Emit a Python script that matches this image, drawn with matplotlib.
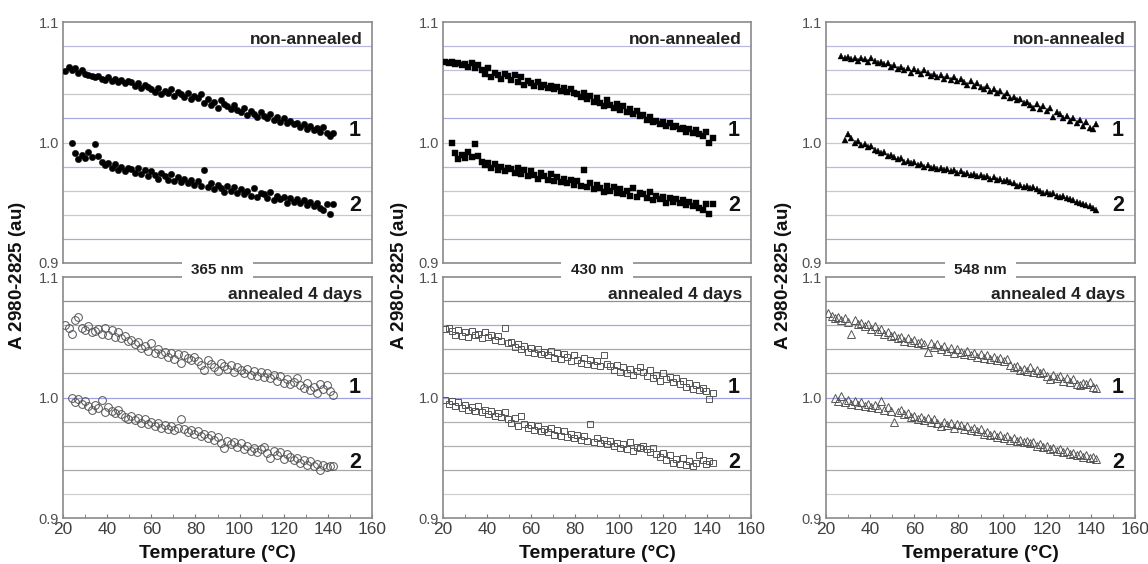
import numpy as np
import matplotlib
matplotlib.use("Agg")
import matplotlib.pyplot as plt

plt.rcParams['font.family'] = ['Liberation Sans Narrow', 'Liberation Sans', 'DejaVu Sans']
plt.rcParams['mathtext.fontset'] = 'custom'
plt.rcParams['mathtext.it'] = 'Liberation Sans:style=italic:weight=bold'
plt.rcParams['mathtext.rm'] = 'Liberation Sans:weight=bold'

# ---------------- data ----------------
temperature = [21.0, 22.5, 24.0, 25.5, 27.0, 28.5, 30.0, 31.5, 33.0, 34.5,
               36.0, 37.5, 39.0, 40.5, 42.0, 43.5, 45.0, 46.5, 48.0, 49.5,
               51.0, 52.5, 54.0, 55.5, 57.0, 58.5, 60.0, 61.5, 63.0, 64.5,
               66.0, 67.5, 69.0, 70.5, 72.0, 73.5, 75.0, 76.5, 78.0, 79.5,
               81.0, 82.5, 84.0, 85.5, 87.0, 88.5, 90.0, 91.5, 93.0, 94.5,
               96.0, 97.5, 99.0, 100.5, 102.0, 103.5, 105.0, 106.5, 108.0, 109.5,
               111.0, 112.5, 114.0, 115.5, 117.0, 118.5, 120.0, 121.5, 123.0, 124.5,
               126.0, 127.5, 129.0, 130.5, 132.0, 133.5, 135.0, 136.5, 138.0, 139.5,
               141.0, 142.5]

# absorbance values in thousandths (0 = no measurement)
nm365_nonannealed_1 = [1059, 1063, 1060, 1062, 1058, 1060, 1057, 1056, 1055, 1054,
                       1055, 1053, 1052, 1054, 1051, 1053, 1050, 1052, 1049, 1051,
                       1050, 1047, 1049, 1045, 1048, 1046, 1044, 1042, 1045, 1040,
                       1043, 1041, 1044, 1039, 1042, 1040, 1038, 1041, 1036, 1039,
                       1037, 1040, 1033, 1036, 1031, 1034, 1029, 1035, 1032, 1030,
                       1028, 1031, 1027, 1025, 1029, 1023, 1026, 1024, 1021, 1025,
                       1022, 1020, 1024, 1019, 1021, 1017, 1020, 1016, 1018, 1015,
                       1016, 1013, 1015, 1011, 1014, 1010, 1012, 1009, 1013, 1008,
                       1005, 1008]
nm365_nonannealed_2 = [0, 0, 1000, 991, 986, 990, 987, 992, 988, 999,
                       989, 984, 981, 983, 979, 982, 977, 980, 976, 979,
                       978, 975, 979, 974, 977, 972, 976, 973, 970, 975,
                       972, 969, 974, 968, 971, 967, 970, 966, 969, 965,
                       968, 964, 977, 963, 966, 961, 965, 962, 959, 964,
                       960, 963, 958, 961, 957, 960, 956, 962, 955, 958,
                       957, 954, 959, 952, 956, 953, 955, 950, 954, 951,
                       953, 950, 952, 948, 951, 947, 950, 946, 944, 949,
                       941, 949]
nm365_annealed_1 = [1060, 1058, 1053, 1064, 1067, 1058, 1056, 1059, 1054, 1055,
                    1057, 1053, 1058, 1052, 1056, 1050, 1054, 1049, 1051, 1047,
                    1048, 1044, 1046, 1041, 1043, 1039, 1045, 1037, 1040, 1036,
                    1038, 1034, 1037, 1032, 1036, 1029, 1035, 1033, 1031, 1034,
                    1030, 1027, 1023, 1031, 1028, 1025, 1022, 1029, 1026, 1024,
                    1027, 1021, 1025, 1023, 1020, 1024, 1019, 1022, 1018, 1021,
                    1017, 1020, 1016, 1019, 1014, 1018, 1012, 1015, 1011, 1013,
                    1016, 1010, 1008, 1012, 1006, 1009, 1004, 1011, 1007, 1010,
                    1005, 1002]
nm365_annealed_2 = [0, 0, 1000, 996, 999, 995, 997, 993, 990, 994,
                    991, 998, 988, 992, 989, 987, 990, 986, 984, 982,
                    985, 981, 983, 979, 982, 978, 980, 976, 979, 975,
                    977, 974, 976, 973, 975, 982, 974, 971, 973, 970,
                    972, 968, 970, 966, 969, 965, 967, 962, 958, 964,
                    961, 963, 959, 962, 957, 960, 956, 958, 955, 957,
                    959, 954, 950, 956, 952, 955, 949, 953, 951, 948,
                    950, 946, 948, 944, 947, 943, 945, 940, 944, 942,
                    943, 943]

nm430_nonannealed_1 = [1067, 1066, 1067, 1065, 1066, 1064, 1065, 1063, 1066, 1062,
                       1064, 1060, 1057, 1062, 1054, 1058, 1056, 1053, 1057, 1055,
                       1052, 1056, 1050, 1054, 1048, 1051, 1049, 1047, 1050, 1046,
                       1048, 1045, 1047, 1044, 1046, 1043, 1045, 1042, 1044, 1041,
                       1040, 1038, 1041, 1036, 1039, 1034, 1037, 1033, 1030, 1035,
                       1031, 1029, 1032, 1027, 1030, 1025, 1028, 1024, 1026, 1022,
                       1023, 1019, 1021, 1017, 1018, 1015, 1017, 1014, 1016, 1013,
                       1014, 1011, 1012, 1009, 1011, 1008, 1010, 1007, 1005, 1009,
                       1000, 1004]
nm430_nonannealed_2 = [0, 0, 1000, 991, 986, 990, 987, 992, 988, 999,
                       989, 984, 981, 983, 979, 982, 977, 980, 976, 979,
                       978, 975, 979, 974, 977, 972, 976, 973, 970, 975,
                       972, 969, 974, 968, 971, 967, 970, 966, 969, 965,
                       968, 964, 977, 963, 966, 961, 965, 962, 959, 964,
                       960, 963, 958, 961, 957, 960, 956, 962, 955, 958,
                       957, 954, 959, 952, 956, 953, 955, 950, 954, 951,
                       953, 950, 952, 948, 951, 947, 950, 946, 944, 949,
                       941, 949]
nm430_annealed_1 = [1057, 1058, 1055, 1052, 1056, 1051, 1054, 1050, 1055, 1052,
                    1053, 1049, 1054, 1050, 1052, 1048, 1051, 1047, 1058, 1045,
                    1046, 1042, 1044, 1040, 1043, 1038, 1041, 1037, 1040, 1036,
                    1038, 1035, 1039, 1033, 1037, 1032, 1036, 1034, 1030, 1035,
                    1031, 1029, 1033, 1028, 1031, 1027, 1030, 1026, 1035, 1028,
                    1026, 1023, 1027, 1021, 1025, 1020, 1024, 1019, 1022, 1025,
                    1021, 1018, 1023, 1016, 1019, 1014, 1020, 1015, 1017, 1013,
                    1016, 1011, 1014, 1009, 1012, 1007, 1010, 1006, 1008, 1005,
                    999, 1004]
nm430_annealed_2 = [998, 995, 997, 993, 996, 991, 994, 990, 992, 989,
                    993, 988, 990, 986, 989, 985, 987, 984, 988, 982,
                    979, 983, 976, 985, 978, 975, 977, 973, 976, 972,
                    974, 971, 975, 969, 973, 968, 972, 967, 970, 966,
                    969, 965, 968, 964, 978, 963, 966, 962, 965, 961,
                    964, 960, 962, 958, 961, 957, 963, 956, 959, 958,
                    960, 957, 955, 958, 953, 951, 954, 948, 952, 946,
                    949, 945, 950, 944, 947, 943, 946, 952, 948, 945,
                    947, 946]

nm548_nonannealed_1 = [0, 0, 0, 0, 1072, 1070, 1071, 1069, 1070, 1068,
                       1070, 1069, 1067, 1070, 1068, 1066, 1067, 1065, 1066, 1063,
                       1064, 1061, 1063, 1060, 1062, 1058, 1061, 1059, 1057, 1060,
                       1058, 1055, 1057, 1054, 1056, 1053, 1055, 1052, 1054, 1051,
                       1053, 1050, 1048, 1051, 1047, 1049, 1046, 1044, 1047, 1043,
                       1044, 1041, 1043, 1039, 1041, 1037, 1038, 1035, 1036, 1033,
                       1034, 1031, 1029, 1032, 1028, 1030, 1026, 1029, 1021, 1025,
                       1024, 1020, 1022, 1018, 1020, 1016, 1019, 1014, 1017, 1012,
                       1011, 1015]
nm548_nonannealed_2 = [0, 0, 0, 0, 0, 1002, 1007, 1004, 1000, 1001,
                       998, 999, 996, 997, 994, 993, 991, 992, 989, 990,
                       988, 986, 987, 984, 985, 983, 984, 981, 982, 980,
                       981, 979, 980, 978, 979, 977, 978, 976, 977, 975,
                       976, 974, 975, 973, 974, 972, 973, 971, 972, 970,
                       971, 969, 970, 968, 969, 967, 966, 964, 965, 963,
                       964, 962, 963, 961, 960, 958, 959, 957, 958, 956,
                       955, 956, 954, 953, 952, 951, 950, 949, 948, 947,
                       946, 944]
nm548_annealed_1 = [1070, 1068, 1066, 1067, 1064, 1066, 1063, 1053, 1064, 1061,
                    1062, 1059, 1061, 1057, 1059, 1055, 1057, 1053, 1054, 1051,
                    1052, 1049, 1050, 1047, 1049, 1046, 1048, 1045, 1046, 1044,
                    1038, 1045, 1042, 1044, 1040, 1043, 1039, 1041, 1037, 1040,
                    1038, 1036, 1039, 1035, 1037, 1034, 1036, 1033, 1035, 1032,
                    1034, 1031, 1033, 1030, 1032, 1027, 1025, 1026, 1023, 1024,
                    1022, 1025, 1021, 1023, 1020, 1021, 1018, 1015, 1019, 1016,
                    1018, 1014, 1016, 1013, 1015, 1011, 1010, 1012, 1011, 1013,
                    1009, 1008]
nm548_annealed_2 = [0, 0, 1000, 997, 1001, 996, 998, 995, 997, 994,
                    996, 993, 995, 992, 994, 991, 997, 990, 992, 989,
                    980, 988, 990, 986, 987, 984, 985, 982, 984, 981,
                    983, 980, 982, 979, 976, 980, 977, 979, 975, 978,
                    977, 974, 976, 973, 975, 972, 974, 970, 971, 969,
                    970, 967, 969, 966, 968, 965, 966, 964, 965, 963,
                    964, 962, 963, 960, 961, 959, 960, 957, 958, 956,
                    957, 955, 956, 953, 954, 952, 953, 951, 952, 950,
                    951, 949]

wavelengths = ["365 nm", "430 nm", "548 nm"]
conditions = ["non-annealed", "annealed 4 days"]
series_labels = ["1", "2"]
x_ticks = [20, 40, 60, 80, 100, 120, 140, 160]
y_ticks = [0.9, 1.0, 1.1]
y_grid = [0.92, 0.94, 0.96, 0.98, 1.00, 1.02, 1.04, 1.06, 1.08]

data = [
    [(nm365_nonannealed_1, nm365_nonannealed_2), (nm365_annealed_1, nm365_annealed_2)],
    [(nm430_nonannealed_1, nm430_nonannealed_2), (nm430_annealed_1, nm430_annealed_2)],
    [(nm548_nonannealed_1, nm548_nonannealed_2), (nm548_annealed_1, nm548_annealed_2)],
]

# ---------------- styles ----------------
markers = ['o', 's', '^']
filled_ms = [4.6, 3.8, 5.0]
open_ms = [5.6, 4.8, 6.0]
grid_top = ['#a8a8e0', '#c8c8d0', '#c8c8c8', '#b8b8e0', '#c8c8d0',
            '#a8a8e0', '#c8c8c8', '#c0c0d8', '#b8b8e0']
grid_bot = ['#d0d0d0', '#a8a8a8', '#b0b0b0', '#b0b0b0', '#a0a0e0',
            '#a8a8a8', '#a8a8a8', '#a8a8e0', '#909090']

col_left = [63, 443, 826]
col_width = [309, 308, 309]
W, H = 1148, 564
panel_rows = [(22, 263), (277, 518)]  # top, bottom in pixels

fig = plt.figure(figsize=(W / 100, H / 100), dpi=100)
T = np.array(temperature)

for c in range(3):
    for r in range(2):
        top_px, bot_px = panel_rows[r]
        ax = fig.add_axes([col_left[c] / W, 1 - bot_px / H,
                           col_width[c] / W, (bot_px - top_px) / H])
        ax.set_xlim(20, 160)
        ax.set_ylim(0.9, 1.1)
        gcols = grid_top if r == 0 else grid_bot
        for yv, gc in zip(y_grid, gcols):
            ax.axhline(yv, color=gc, lw=0.9, zorder=0)
        for s, vals in enumerate(data[c][r]):
            v = np.array(vals, dtype=float)
            v[v == 0] = np.nan
            v = v / 1000.0
            if r == 0:
                ax.plot(T, v, linestyle='none', marker=markers[c], ms=filled_ms[c],
                        mfc='black', mec='black', mew=0.3, zorder=3)
            else:
                ax.plot(T, v, linestyle='none', marker=markers[c], ms=open_ms[c],
                        mfc='none', mec='#555555', mew=0.7, zorder=3)
        for sp in ax.spines.values():
            sp.set_color('#8a8a8a')
            sp.set_linewidth(1.2)
        ax.set_yticks(y_ticks)
        ax.set_yticklabels([f"{t:.1f}" for t in y_ticks])
        ax.tick_params(axis='y', length=0, pad=3, labelsize=10.5, labelcolor='#505050')
        if r == 0:
            ax.set_xticks([])
        else:
            ax.set_xticks(x_ticks)
            ax.set_xticks(np.arange(30, 160, 20), minor=True)
            ax.tick_params(axis='x', which='both', direction='in', length=3,
                           color='#777777', labelsize=12.5, labelcolor='#404040', pad=3)
        ax.text(0.97, 1.0855, conditions[r], transform=ax.get_yaxis_transform(),
                ha='right', va='center', fontsize=12.5, fontweight='bold',
                family=['Liberation Sans', 'DejaVu Sans'], color='#222222', zorder=5)
        lab_y = [(1.010, 0.948), (1.0087, 0.946)][r]
        for s in range(2):
            ax.text(0.945, lab_y[s], series_labels[s], transform=ax.get_yaxis_transform(),
                    ha='center', va='center', fontsize=15.5, fontweight='bold',
                    family=['Liberation Sans', 'DejaVu Sans'], color='#111111', zorder=5)

    cx = (col_left[c] + col_width[c] / 2) / W
    fig.text(cx, 1 - 270 / H, wavelengths[c], ha='center', va='center',
             fontsize=11, fontweight='bold', family=['Liberation Sans', 'DejaVu Sans'],
             color='#222222',
             bbox=dict(facecolor='white', edgecolor='none',
                       boxstyle='square,pad=0.6'), zorder=10)
    fig.text(cx, 1 - 554 / H, "Temperature (°C)", ha='center', va='center',
             fontsize=14, fontweight='bold', family=['Liberation Sans', 'DejaVu Sans'],
             color='#111111')
    ylab_x = [18, 399, 783][c]
    fig.text(ylab_x / W, 1 - 275 / H, r"A $\mathit{2980}$-$\mathit{2825}$ (au)",
             rotation=90, ha='center', va='center', fontsize=13.5, fontweight='bold',
             family=['Liberation Sans', 'DejaVu Sans'], color='#111111')

fig.savefig("out.png", dpi=100)
